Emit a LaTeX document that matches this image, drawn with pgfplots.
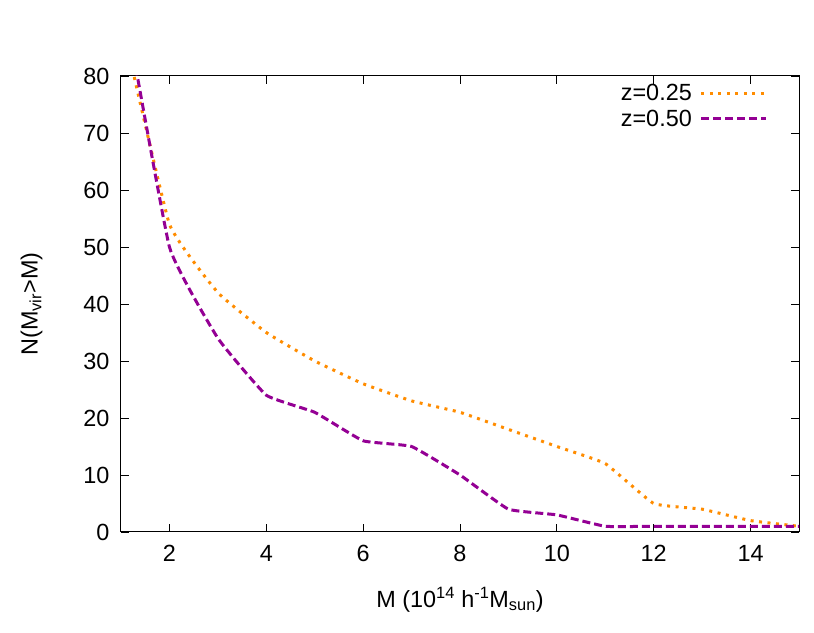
\documentclass[border=0pt]{standalone}
\usepackage{fontspec}
\setmainfont{Liberation Sans}
\usepackage{pgfplots}
\pgfplotsset{compat=1.18}
\usetikzlibrary{calc}

\definecolor{zorange}{RGB}{255,140,0}
\definecolor{zpurple}{RGB}{148,0,148}

\begin{document}
\begin{tikzpicture}[font=\fontsize{23.5}{27}\selectfont]
  \begin{axis}[
    name=ax,
    scale only axis,
    width=678bp, height=456bp,
    xmin=1, xmax=15,
    ymin=0, ymax=80,
    xtick={2,4,...,14},
    ytick={0,10,...,80},
    minor tick num=0,
    tick align=inside,
    major tick length=8bp,
    every tick/.style={black, line width=0.8bp},
    axis line style={line width=1bp},
    /pgf/number format/assume math mode=true,
    xticklabel style={yshift=-10bp},
    yticklabel style={xshift=-8bp},
    xlabel={M (10\textsuperscript{14} h\textsuperscript{-1}M\textsubscript{sun})},
    ylabel={N(M\textsubscript{vir}>M)},
    xlabel style={yshift=-18bp},
    ylabel style={yshift=34bp},
    clip=true,
    legend cell align=right,
    legend plot pos=right,
    legend image code/.code={\draw[#1] (0bp,0bp) -- (65bp,0bp);},
    legend style={draw=none, fill=none, at={(1,1)}, anchor=north east,
      xshift=-28bp, yshift=-6bp, row sep=8bp,
      nodes={inner xsep=8bp, inner ysep=0bp},
      font=\fontsize{23.5}{27}\selectfont},
  ]
  \addplot[zorange, line width=3bp, dash pattern=on 3bp off 5.5bp, smooth, tension=0.2]
    coordinates {
      (1,90) (2,54) (3,42) (4,35) (5,30) (6,26) (7,23) (8,21) (9,18)
      (10,15) (11,12) (12,5) (13,4) (14,2) (15,1)
    };
  \addlegendentry{z=0.25}
  \addplot[zpurple, line width=3bp, dash pattern=on 8bp off 4bp, smooth, tension=0.2]
    coordinates {
      (1,96) (2,50) (3,34) (4,24) (5,21) (6,16) (7,15) (8,10) (9,4)
      (10,3) (11,1) (12,1) (13,1) (14,1) (15,1)
    };
  \addlegendentry{z=0.50}
  \end{axis}
  \path (ax.south west) ++(-121bp,-101bp) rectangle ($(ax.north east)+(15bp,76bp)$);
\end{tikzpicture}
\end{document}
